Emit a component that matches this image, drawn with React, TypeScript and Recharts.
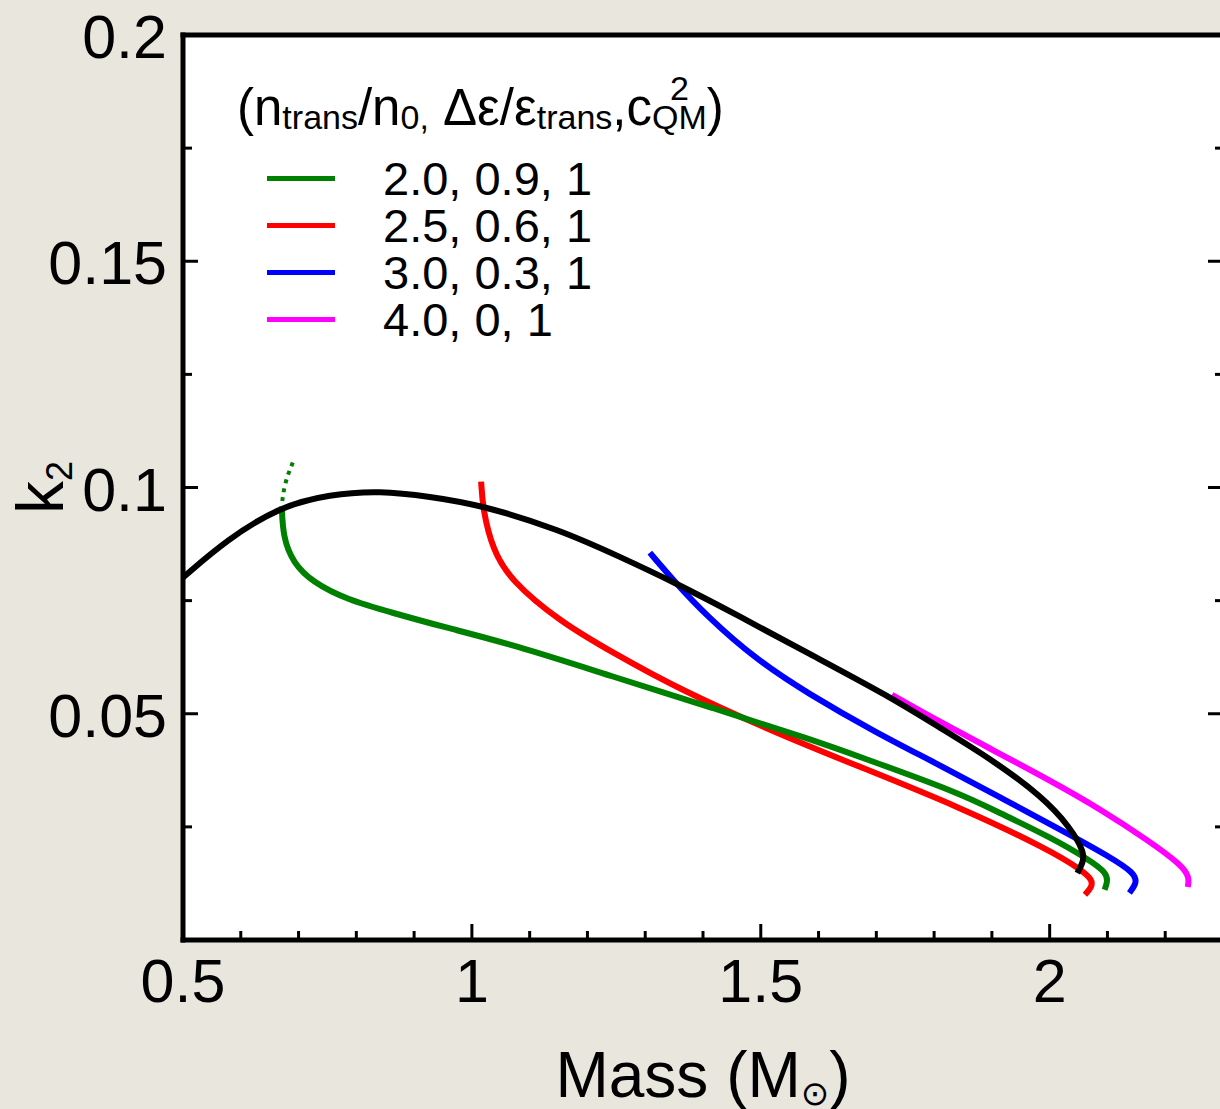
import { LineChart, Line, XAxis, YAxis, CartesianGrid, Legend, Label } from 'recharts';

const FONT = '"Liberation Sans", Arial, Helvetica, sans-serif';

// mass (M_sun) / k2 pairs, one pair of arrays per curve
const blackMass = [0.5, 0.576, 0.668, 0.754, 0.841, 0.927, 1.014, 1.152, 1.256, 1.348, 1.464, 1.58, 1.723, 1.81, 1.901, 1.988, 2.035, 2.061, 2.057, 2.048];
const blackK2 = [0.0801, 0.0885, 0.0958, 0.0985, 0.0993, 0.098, 0.0962, 0.0907, 0.0847, 0.0792, 0.0715, 0.0635, 0.0538, 0.0469, 0.0398, 0.0316, 0.025, 0.0192, 0.017, 0.0148];

const greenDotMass = [0.69, 0.676, 0.671];
const greenDotK2 = [0.1055, 0.1011, 0.0962];

const greenMass = [0.671, 0.673, 0.69, 0.725, 0.784, 0.863, 0.95, 1.071, 1.244, 1.417, 1.59, 1.671, 1.844, 1.913, 2.0, 2.069, 2.099, 2.1, 2.095];
const greenK2 = [0.0958, 0.0892, 0.0834, 0.079, 0.0752, 0.0723, 0.0692, 0.0653, 0.0582, 0.0513, 0.0442, 0.0405, 0.0325, 0.0281, 0.0228, 0.0177, 0.0148, 0.0128, 0.0111];

const redMass = [1.016, 1.019, 1.036, 1.066, 1.152, 1.244, 1.36, 1.533, 1.671, 1.844, 2.0, 2.055, 2.074, 2.073, 2.061];
const redK2 = [0.1013, 0.0951, 0.0863, 0.0796, 0.0704, 0.0635, 0.0553, 0.0454, 0.0383, 0.0294, 0.0199, 0.0155, 0.0133, 0.0117, 0.01];

const blueMass = [1.308, 1.348, 1.407, 1.493, 1.58, 1.7, 1.8, 1.913, 2.029, 2.104, 2.147, 2.151, 2.138];
const blueK2 = [0.0856, 0.0796, 0.0715, 0.0619, 0.0546, 0.0458, 0.0393, 0.0316, 0.0237, 0.0184, 0.0148, 0.0126, 0.0104];

const magentaMass = [1.727, 1.81, 1.9, 2.0, 2.087, 2.173, 2.228, 2.242, 2.239];
const magentaK2 = [0.0542, 0.0482, 0.0421, 0.0353, 0.029, 0.0218, 0.0166, 0.0139, 0.0117];

const seriesNames = ['2.0, 0.9, 1', '2.5, 0.6, 1', '3.0, 0.3, 1', '4.0, 0, 1'];

const xTicks = [0.5, 0.6, 0.7, 0.8, 0.9, 1, 1.1, 1.2, 1.3, 1.4, 1.5, 1.6, 1.7, 1.8, 1.9, 2, 2.1, 2.2];
const xLabels = [0.5, 1, 1.5, 2];
const yTicks = [0, 0.025, 0.05, 0.075, 0.1, 0.125, 0.15, 0.175, 0.2];
const yLabels = [0.05, 0.1, 0.15, 0.2];

const toPoints = (m: number[], k: number[]) => m.map((v, i) => ({ m: v, k: k[i] }));

const frame = { stroke: '#000', strokeWidth: 5, strokeLinecap: 'square' as const };

// ticks point into the plot, labels sit outside
function BottomTick(props: any) {
  const { x, payload } = props;
  const y = props.y - 1;
  const major = xLabels.includes(payload.value);
  return (
    <g>
      <line x1={x} y1={y} x2={x} y2={y - (major ? 15 : 8)} stroke="#000" strokeWidth={3} />
      {major && (
        <text x={x} y={y + 63} textAnchor="middle" fontSize={61} fontFamily={FONT} fill="#000">
          {payload.value}
        </text>
      )}
    </g>
  );
}

function LeftTick(props: any) {
  const { x, y, payload } = props;
  const major = yLabels.includes(payload.value) || payload.value === 0;
  return (
    <g>
      <line x1={x} y1={y} x2={x + (major ? 15 : 9)} y2={y} stroke="#000" strokeWidth={3} />
      {yLabels.includes(payload.value) && (
        <text x={x - 16} y={y + 23} textAnchor="end" fontSize={61} fontFamily={FONT} fill="#000">
          {payload.value}
        </text>
      )}
    </g>
  );
}

function RightTick(props: any) {
  const { x, y, payload } = props;
  const major = yLabels.includes(payload.value);
  return <line x1={x} y1={y} x2={x - (major ? 15 : 8)} y2={y} stroke="#000" strokeWidth={3} />;
}

function MassLabel(props: any) {
  const { viewBox } = props;
  return (
    <text x={viewBox.x + viewBox.width / 2} y={viewBox.y + 157} textAnchor="middle" fontSize={64} fontFamily={FONT} fill="#000">
      Mass (M<tspan fontSize={34} dy={8} fontFamily="DejaVu Sans">⊙</tspan>
      <tspan dy={-8}>)</tspan>
    </text>
  );
}

function K2Label(props: any) {
  const { viewBox } = props;
  const x = viewBox.x - 119;
  const y = viewBox.y + viewBox.height / 2;
  return (
    <text x={x} y={y} transform={`rotate(-90, ${x}, ${y})`} textAnchor="middle" fontSize={66} fontFamily={FONT} fill="#000">
      k<tspan fontSize={36} dy={9}>2</tspan>
    </text>
  );
}

const sub = { fontSize: 34, position: 'relative' as const, top: 4 };

function LegendBox(props: any) {
  const items = (props.payload || [])
    .filter((it: any) => seriesNames.includes(it.value))
    .sort((a: any, b: any) => seriesNames.indexOf(a.value) - seriesNames.indexOf(b.value));
  return (
    <div style={{ fontFamily: FONT, color: '#000', textAlign: 'left' }}>
      <div style={{ fontSize: 51, lineHeight: '52px', whiteSpace: 'nowrap', marginBottom: 16 }}>
        (n<span style={sub}>trans</span>/n<span style={sub}>0,</span> Δε/ε<span style={sub}>trans</span>,c
        <span style={{ display: 'inline-block', position: 'relative', fontSize: 34 }}>
          <span style={{ position: 'relative', top: 4 }}>QM</span>
          <span style={{ position: 'absolute', left: 0, right: 0, textAlign: 'center', top: -25 }}>2</span>
        </span>
        )
      </div>
      {items.map((it: any) => (
        <div key={it.value} style={{ display: 'flex', alignItems: 'center', height: 47 }}>
          <span style={{ display: 'inline-block', width: 68, height: 5, marginLeft: 30, background: it.color }} />
          <span style={{ marginLeft: 48, fontSize: 47, lineHeight: '47px', whiteSpace: 'nowrap' }}>{it.value}</span>
        </div>
      ))}
    </div>
  );
}

const curve = { type: 'basis' as const, strokeWidth: 6, dot: false, isAnimationActive: false };

export default function App() {
  return (
    <div style={{ position: 'absolute', left: 0, top: 0, width: 1220, height: 1109, overflow: 'hidden', background: '#e9e6de' }}>
      <LineChart width={1245} height={1109} margin={{ top: 34, right: 21, bottom: 168, left: 182 }}>
        <CartesianGrid fill="#ffffff" horizontal={false} vertical={false} />
        <XAxis
          type="number"
          dataKey="m"
          domain={[0.5, 2.3]}
          ticks={xTicks}
          interval={0}
          allowDataOverflow
          height={1}
          tickSize={0}
          tickMargin={0}
          tickLine={false}
          axisLine={frame}
          tick={(p: any) => <BottomTick {...p} />}
        >
          <Label content={(p: any) => <MassLabel {...p} />} />
        </XAxis>
        <XAxis xAxisId="top" orientation="top" type="number" domain={[0.5, 2.3]} allowDataOverflow height={1} tick={false} tickLine={false} axisLine={frame} />
        <YAxis
          type="number"
          domain={[0, 0.2]}
          ticks={yTicks}
          interval={0}
          allowDataOverflow
          width={1}
          tickSize={0}
          tickMargin={0}
          tickLine={false}
          axisLine={frame}
          tick={(p: any) => <LeftTick {...p} />}
        >
          <Label content={(p: any) => <K2Label {...p} />} />
        </YAxis>
        <YAxis
          yAxisId="right"
          orientation="right"
          type="number"
          domain={[0, 0.2]}
          ticks={yTicks}
          interval={0}
          allowDataOverflow
          width={1}
          tickSize={0}
          tickMargin={0}
          tickLine={false}
          axisLine={frame}
          tick={(p: any) => <RightTick {...p} />}
        />
        <Legend
          layout="vertical"
          align="center"
          verticalAlign="middle"
          content={(p: any) => <LegendBox {...p} />}
          wrapperStyle={{ left: 237, top: 82, width: 560 }}
        />
        <Line data={toPoints(redMass, redK2)} dataKey="k" name={seriesNames[1]} stroke="#ff0000" {...curve} />
        <Line data={toPoints(greenMass, greenK2)} dataKey="k" name={seriesNames[0]} stroke="#008000" {...curve} />
        <Line data={toPoints(greenDotMass, greenDotK2)} dataKey="k" legendType="none" stroke="#008000" {...curve} strokeWidth={4} strokeDasharray="4 5" />
        <Line data={toPoints(blueMass, blueK2)} dataKey="k" name={seriesNames[2]} stroke="#0000ff" {...curve} />
        <Line data={toPoints(magentaMass, magentaK2)} dataKey="k" name={seriesNames[3]} stroke="#ff00ff" {...curve} />
        <Line data={toPoints(blackMass, blackK2)} dataKey="k" legendType="none" stroke="#000000" {...curve} />
      </LineChart>
    </div>
  );
}
